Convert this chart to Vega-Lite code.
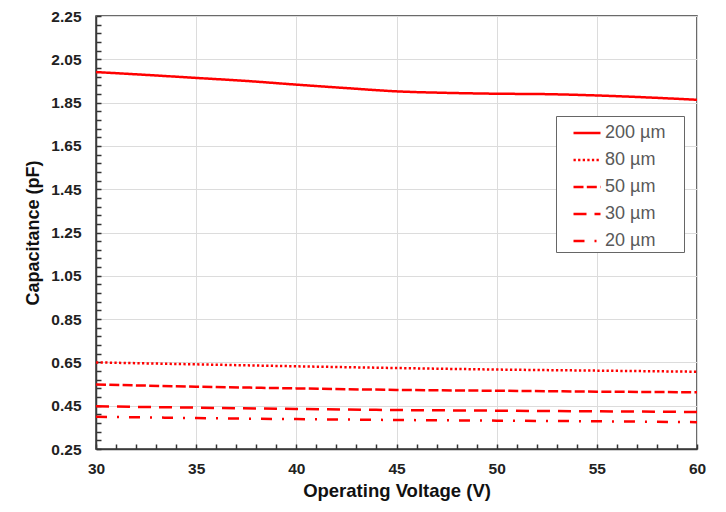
{
  "$schema": "https://vega.github.io/schema/vega-lite/v6.json",
  "width": 601,
  "height": 433,
  "autosize": "none",
  "padding": {"left": 96, "top": 16, "right": 29, "bottom": 63},
  "background": "white",
  "config": {
    "view": {"stroke": "#3a3a3a", "strokeWidth": 1.5},
    "font": "Liberation Sans"
  },
  "data": {
    "values": [
      {"v": 30, "c": 1.991, "w": "200 µm"},
      {"v": 32.5, "c": 1.978, "w": "200 µm"},
      {"v": 35, "c": 1.964, "w": "200 µm"},
      {"v": 37.5, "c": 1.95, "w": "200 µm"},
      {"v": 40, "c": 1.933, "w": "200 µm"},
      {"v": 42.5, "c": 1.917, "w": "200 µm"},
      {"v": 45, "c": 1.902, "w": "200 µm"},
      {"v": 47.5, "c": 1.895, "w": "200 µm"},
      {"v": 50, "c": 1.891, "w": "200 µm"},
      {"v": 52.5, "c": 1.889, "w": "200 µm"},
      {"v": 55, "c": 1.883, "w": "200 µm"},
      {"v": 57.5, "c": 1.874, "w": "200 µm"},
      {"v": 60, "c": 1.863, "w": "200 µm"},
      {"v": 30, "c": 0.65, "w": "80 µm"},
      {"v": 35, "c": 0.641, "w": "80 µm"},
      {"v": 40, "c": 0.632, "w": "80 µm"},
      {"v": 45, "c": 0.624, "w": "80 µm"},
      {"v": 50, "c": 0.617, "w": "80 µm"},
      {"v": 55, "c": 0.612, "w": "80 µm"},
      {"v": 60, "c": 0.607, "w": "80 µm"},
      {"v": 30, "c": 0.548, "w": "50 µm"},
      {"v": 35, "c": 0.538, "w": "50 µm"},
      {"v": 40, "c": 0.53, "w": "50 µm"},
      {"v": 45, "c": 0.523, "w": "50 µm"},
      {"v": 50, "c": 0.519, "w": "50 µm"},
      {"v": 55, "c": 0.515, "w": "50 µm"},
      {"v": 60, "c": 0.512, "w": "50 µm"},
      {"v": 30, "c": 0.447, "w": "30 µm"},
      {"v": 35, "c": 0.441, "w": "30 µm"},
      {"v": 40, "c": 0.435, "w": "30 µm"},
      {"v": 45, "c": 0.43, "w": "30 µm"},
      {"v": 50, "c": 0.427, "w": "30 µm"},
      {"v": 55, "c": 0.424, "w": "30 µm"},
      {"v": 60, "c": 0.421, "w": "30 µm"},
      {"v": 30, "c": 0.399, "w": "20 µm"},
      {"v": 35, "c": 0.393, "w": "20 µm"},
      {"v": 40, "c": 0.388, "w": "20 µm"},
      {"v": 45, "c": 0.384, "w": "20 µm"},
      {"v": 50, "c": 0.381, "w": "20 µm"},
      {"v": 55, "c": 0.378, "w": "20 µm"},
      {"v": 60, "c": 0.374, "w": "20 µm"}
    ]
  },
  "mark": {"type": "line", "color": "#ff0000", "strokeWidth": 2.5, "interpolate": "monotone", "clip": true},
  "encoding": {
    "x": {
      "field": "v", "type": "quantitative",
      "scale": {"domain": [30, 60], "nice": false, "zero": false},
      "axis": {
        "title": "Operating Voltage (V)",
        "titleFont": "Liberation Sans", "titleFontSize": 18.5, "titleFontWeight": "bold", "titleColor": "#111", "titlePadding": 5,
        "values": [30,31,32,33,34,35,36,37,38,39,40,41,42,43,44,45,46,47,48,49,50,51,52,53,54,55,56,57,58,59,60],
        "labelExpr": "datum.value % 5 == 0 ? format(datum.value, 'd') : ''",
        "labelFlush": false,
        "labelFont": "Liberation Sans", "labelFontSize": 15.5, "labelFontWeight": "bold", "labelColor": "#222",
        "labelPadding": 17,
        "tickSize": -5, "tickColor": "#333333", "tickWidth": 1.5,
        "domainColor": "#3a3a3a", "domainWidth": 1.5,
        "grid": true,
        "gridColor": {"condition": {"test": "datum.value % 5 == 0", "value": "#dcdcdc"}, "value": "transparent"},
        "gridWidth": 1
      }
    },
    "y": {
      "field": "c", "type": "quantitative",
      "scale": {"domain": [0.25, 2.25], "nice": false, "zero": false},
      "axis": {
        "title": "Capacitance (pF)",
        "titleFont": "Liberation Sans", "titleFontSize": 18, "titleFontWeight": "bold", "titleColor": "#111", "titlePadding": 8,
        "values": [0.25,0.29,0.33,0.37,0.41,0.45,0.49,0.53,0.57,0.61,0.65,0.69,0.73,0.77,0.81,0.85,0.89,0.93,0.97,1.01,1.05,1.09,1.13,1.17,1.21,1.25,1.29,1.33,1.37,1.41,1.45,1.49,1.53,1.57,1.61,1.65,1.69,1.73,1.77,1.81,1.85,1.89,1.93,1.97,2.01,2.05,2.09,2.13,2.17,2.21,2.25],
        "labelExpr": "abs((datum.value - 0.25) / 0.2 - round((datum.value - 0.25) / 0.2)) < 0.01 ? format(datum.value, '.2f') : ''",
        "labelFlush": false,
        "labelFont": "Liberation Sans", "labelFontSize": 15.5, "labelFontWeight": "bold", "labelColor": "#222",
        "labelPadding": 20,
        "tickSize": -5, "tickColor": "#333333", "tickWidth": 1.5,
        "domainColor": "#3a3a3a", "domainWidth": 1.5,
        "grid": true,
        "gridColor": {"condition": {"test": "abs((datum.value - 0.25) / 0.2 - round((datum.value - 0.25) / 0.2)) < 0.01", "value": "#dcdcdc"}, "value": "transparent"},
        "gridWidth": 1
      }
    },
    "strokeDash": {
      "field": "w", "type": "nominal",
      "scale": {
        "domain": ["200 µm", "80 µm", "50 µm", "30 µm", "20 µm"],
        "range": [[1, 0], [2.3, 2.3], [10, 3.3], [13, 8], [11, 10, 2, 10]]
      },
      "legend": {
        "title": ".",
        "titleOrient": "right",
        "titleColor": "transparent",
        "titleFontSize": 8,
        "titlePadding": 14,
        "orient": "none",
        "legendX": 460,
        "legendY": 100,
        "direction": "vertical",
        "symbolType": "stroke",
        "symbolSize": 729,
        "symbolStrokeColor": "#ff0000",
        "symbolStrokeWidth": 2.5,
        "symbolOffset": 14,
        "labelOffset": 3,
        "labelFont": "Liberation Sans",
        "labelFontSize": 18,
        "labelColor": "#595959",
        "rowPadding": 3,
        "padding": 2,
        "strokeColor": "#666666",
        "fillColor": "white",
        "cornerRadius": 0
      }
    }
  }
}
